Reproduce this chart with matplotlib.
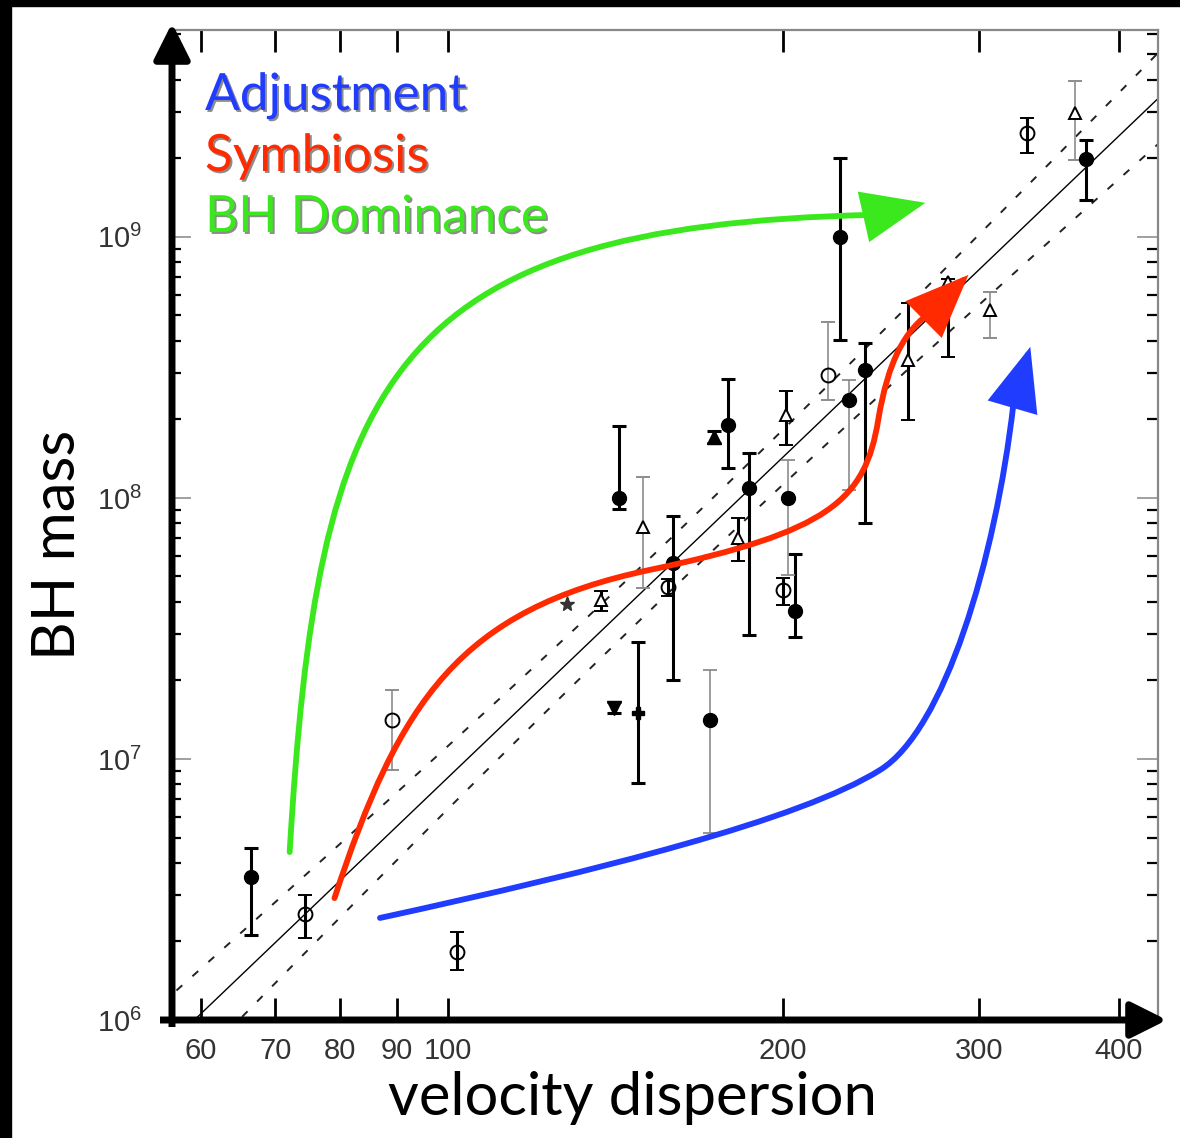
import numpy as np
import matplotlib
matplotlib.use("Agg")
import matplotlib.pyplot as plt
import matplotlib.patheffects as pe
from matplotlib.path import Path
from matplotlib.patches import FancyArrowPatch, Rectangle, ArrowStyle
from matplotlib.ticker import FixedLocator, FixedFormatter, LogLocator, NullFormatter, NullLocator

# ---------------- data ----------------
# filled circles with heavy error bars: sigma (km/s), mass, lower, upper (Msun)
fc_sigma = [66.5, 142.4, 159.3, 178.5, 186.4, 205.0, 225.0, 237.0, 374.3]
fc_mass = [3.53e6, 1.0e8, 5.63e7, 1.9e8, 1.09e8, 3.69e7, 1.0e9, 3.09e8, 1.99e9]
fc_lo = [2.12e6, 9.1e7, 2.01e7, 1.30e8, 2.99e7, 2.93e7, 4.03e8, 8.02e7, 1.39e9]
fc_hi = [4.56e6, 1.89e8, 8.53e7, 2.86e8, 1.49e8, 6.1e7, 2.01e9, 3.93e8, 2.35e9]

# filled circles with light error bars
fl_sigma = [171.9, 202.1, 229.2]
fl_mass = [1.41e7, 1.0e8, 2.37e8]
fl_lo = [5.2e6, 5.07e7, 1.07e8]
fl_hi = [2.19e7, 1.4e8, 2.83e8]

# open circles, heavy error bars
oc_sigma = [74.4, 101.9, 157.6, 200.0, 331.3]
oc_mass = [2.55e6, 1.82e6, 4.56e7, 4.44e7, 2.5e9]
oc_lo = [2.06e6, 1.55e6, 4.2e7, 3.89e7, 2.1e9]
oc_hi = [3.01e6, 2.17e6, 4.9e7, 4.94e7, 2.86e9]

# open circles, light error bars
ol_sigma = [89.1, 219.5]
ol_mass = [1.41e7, 2.96e8]
ol_lo = [9.08e6, 2.37e8]
ol_hi = [1.84e7, 4.72e8]

# open triangles, heavy error bars
ot_sigma = [137.2, 182.2, 201.3, 259.1, 281.4]
ot_mass = [4.07e7, 7.03e7, 2.08e8, 3.38e8, 6.72e8]
ot_lo = [3.7e7, 5.74e7, 1.6e8, 1.99e8, 3.47e8]
ot_hi = [4.4e7, 8.38e7, 2.57e8, 5.58e8, 6.9e8]

# open triangles, light error bars
tl_sigma = [149.7, 306.9, 365.2]
tl_mass = [7.74e7, 5.25e8, 2.99e9]
tl_lo = [4.52e7, 4.1e8, 1.97e9]
tl_hi = [1.2e8, 6.15e8, 3.96e9]

# remaining single objects
star_sigma, star_mass = [127.9], [3.93e7]
cup_sigma, cup_mass, cup_lo, cup_hi = [141.0], [1.57e7], [1.5e7], [1.65e7]
cross_sigma, cross_mass, cross_lo, cross_hi = [148.1], [1.5e7], [8.09e6], [2.81e7]
ft_sigma, ft_mass, ft_lo, ft_hi = [173.4], [1.71e8], [1.62e8], [1.8e8]

# best-fit relation log M = norm + slope * log(sigma / 200) and its 1-sigma band
fit_norm = 8.157
fit_slope = 4.08
band_core = 0.10
band_grow = 0.33
band_center = np.log10(160.0 / 200.0)

x_ticks = [60, 70, 80, 90, 100, 200, 300, 400]
x_tick_labels = ["60", "70", "80", "90", "100", "200", "300", "400"]
y_ticks = [1e6, 1e7, 1e8, 1e9]
y_tick_labels = [r"$\mathregular{10^{6}}$", r"$\mathregular{10^{7}}$",
                 r"$\mathregular{10^{8}}$", r"$\mathregular{10^{9}}$"]

# evolutionary tracks (sigma, mass) as cubic Bezier control points, last point is the tip
green_track = [(72.1, 4.40e6), (76.4, 2.83e8), (87.9, 1.10e9), (240.4, 1.214e9), (268.3, 1.35e9)]
red_track = [(79.1, 2.93e6), (90.5, 1.683e7), (102.5, 3.72e7), (151.8, 5.30e7),
             (220.4, 7.41e7), (236.9, 9.82e7), (243.4, 1.99e8),
             (248.5, 3.38e8), (257.4, 4.40e8), (271.6, 5.16e8), (293.3, 7.15e8)]
blue_track = [(86.9, 2.46e6), (136.9, 3.75e6), (207.2, 5.84e6), (244.4, 9.08e6),
              (279.1, 1.29e7), (310.0, 5.79e7), (321.8, 2.27e8), (333.3, 3.79e8)]

legend_names = ["Adjustment", "Symbiosis", "BH Dominance"]
legend_colors = ["#1f3cff", "#ff2a00", "#3be81e"]

# ---------------- figure ----------------
tick_font = "Liberation Sans"
plt.rcParams["mathtext.fontset"] = "custom"
plt.rcParams["mathtext.rm"] = tick_font

W, H = 1180, 1138
fig = plt.figure(figsize=(W / 100, H / 100), dpi=100)
fig.patch.set_facecolor("white")
ax = fig.add_axes([170 / W, 1 - 1020 / H, (1158 - 170) / W, (1020 - 30) / H])
ax.set_xscale("log")
ax.set_yscale("log")
ax.set_xlim(56.3, 434)
ax.set_ylim(1e6, 6.2e9)

# fit line and band
s = np.logspace(np.log10(50), np.log10(450), 300)
ls = np.log10(s / 200.0)
lm = fit_norm + fit_slope * ls
half = np.sqrt(band_core ** 2 + (band_grow * (ls - band_center)) ** 2)
ax.plot(s, 10 ** lm, color="k", lw=1.0, zorder=2)
ax.plot(s, 10 ** (lm + half), color="#222", lw=1.4, ls=(0, (4, 7)), zorder=2)
ax.plot(s, 10 ** (lm - half), color="#222", lw=1.4, ls=(0, (4, 7)), zorder=2)

heavy = dict(ecolor="k", elinewidth=2.2, capsize=5, capthick=2.2, ls="none", zorder=4)
light = dict(ecolor="#8c8c8c", elinewidth=1.2, capsize=5, capthick=1.3, ls="none", zorder=4)


def yerr(m, lo, hi):
    m, lo, hi = map(np.asarray, (m, lo, hi))
    return [m - lo, hi - m]


ax.errorbar(fc_sigma, fc_mass, yerr=yerr(fc_mass, fc_lo, fc_hi), fmt="o", ms=10,
            mfc="k", mec="k", **heavy)
ax.errorbar(fl_sigma, fl_mass, yerr=yerr(fl_mass, fl_lo, fl_hi), fmt="o", ms=10,
            mfc="k", mec="k", **light)
ax.errorbar(oc_sigma, oc_mass, yerr=yerr(oc_mass, oc_lo, oc_hi), fmt="o", ms=10,
            mfc="none", mec="k", mew=1.4, **heavy)
ax.errorbar(ol_sigma, ol_mass, yerr=yerr(ol_mass, ol_lo, ol_hi), fmt="o", ms=10,
            mfc="none", mec="k", mew=1.4, **light)
ax.errorbar(ot_sigma, ot_mass, yerr=yerr(ot_mass, ot_lo, ot_hi), fmt="^", ms=9,
            mfc="white", mec="k", mew=1.4, **heavy)
ax.errorbar(tl_sigma, tl_mass, yerr=yerr(tl_mass, tl_lo, tl_hi), fmt="^", ms=9,
            mfc="white", mec="k", mew=1.4, **light)
ax.plot(star_sigma, star_mass, marker="*", ms=11, color="#333", ls="none", zorder=4)
ax.errorbar(cup_sigma, cup_mass, yerr=yerr(cup_mass, cup_lo, cup_hi), fmt="v", ms=10,
            mfc="k", mec="k", **heavy)
ax.errorbar(cross_sigma, cross_mass, yerr=yerr(cross_mass, cross_lo, cross_hi), fmt="P",
            ms=9, mfc="k", mec="k", **heavy)
ax.errorbar(ft_sigma, ft_mass, yerr=yerr(ft_mass, ft_lo, ft_hi), fmt="^", ms=10,
            mfc="k", mec="k", **heavy)

# ticks and frame
ax.xaxis.set_major_locator(FixedLocator(x_ticks))
ax.xaxis.set_major_formatter(FixedFormatter(x_tick_labels))
ax.xaxis.set_minor_locator(NullLocator())
ax.yaxis.set_major_locator(FixedLocator(y_ticks))
ax.yaxis.set_major_formatter(FixedFormatter(y_tick_labels))
ax.yaxis.set_minor_locator(LogLocator(base=10, subs=np.arange(2, 10)))
ax.yaxis.set_minor_formatter(NullFormatter())
ax.tick_params(axis="x", which="major", direction="in", length=16, width=2.0, color="k",
               top=True, bottom=True, labelsize=21, labelcolor="#333", pad=12)
ax.tick_params(axis="y", which="major", direction="in", length=15, width=1.3, color="#999",
               left=True, right=True, labelsize=21, labelcolor="#333", pad=20)
ax.tick_params(axis="y", which="minor", direction="in", length=8, width=1.6, color="k",
               left=True, right=True)
for lab in ax.get_xticklabels() + ax.get_yticklabels():
    lab.set_fontfamily(tick_font)
for side in ("top", "right"):
    ax.spines[side].set_color("#888")
    ax.spines[side].set_linewidth(1.6)
for side in ("left", "bottom"):
    ax.spines[side].set_visible(False)


# heavy axis arrows
def px(xp, yp):
    return (xp / W, 1 - yp / H)


axis_style = ArrowStyle("-|>", head_length=2.2, head_width=1.1)
for a, b in [((172, 1027), (172, 23)), ((160, 1020), (1167, 1020))]:
    arr = FancyArrowPatch(px(*a), px(*b), transform=fig.transFigure, arrowstyle=axis_style,
                          mutation_scale=10, lw=5, color="k", shrinkA=0, shrinkB=0,
                          capstyle="butt", zorder=10)
    fig.add_artist(arr)


# evolutionary tracks
def track_path(pts):
    pts = list(pts)
    codes = [Path.MOVETO] + [Path.CURVE4] * (len(pts) - 2) + [Path.LINETO]
    return Path(pts, codes)


head = ArrowStyle("-|>", head_length=3.8, head_width=1.55)
for pts, col in [(green_track, legend_colors[2]), (red_track, legend_colors[1]),
                 (blue_track, legend_colors[0])]:
    p = FancyArrowPatch(path=track_path(pts), arrowstyle=head, mutation_scale=10, lw=4.2,
                        color=col, transform=ax.transData, zorder=8, joinstyle="miter")
    ax.add_patch(p)

# legend words
label_font = ["Lato", "DejaVu Sans"]
shadow = [pe.withSimplePatchShadow(offset=(1.4, -1.4), shadow_rgbFace="k", alpha=0.45)]
for i, (name, col) in enumerate(zip(legend_names, legend_colors)):
    fig.text(205 / W, 1 - (110 + 61 * i) / H, name, color=col, fontsize=37,
             family=label_font, ha="left", va="baseline", path_effects=shadow)

fig.text(58 / W, 1 - 545 / H, "BH mass", rotation=90, fontsize=43, family=label_font,
         ha="center", va="center", color="k")
fig.text(632 / W, 1 - 1098 / H, "velocity dispersion", fontsize=43, family=label_font,
         ha="center", va="center", color="k")

# dark border along the top and left edges
fig.add_artist(Rectangle((0, 0), 11 / W, 1, transform=fig.transFigure, color="k", zorder=20))
fig.add_artist(Rectangle((0, 1 - 6 / H), 1, 6 / H, transform=fig.transFigure, color="k", zorder=20))

fig.savefig("out.png", dpi=100, facecolor="white")
